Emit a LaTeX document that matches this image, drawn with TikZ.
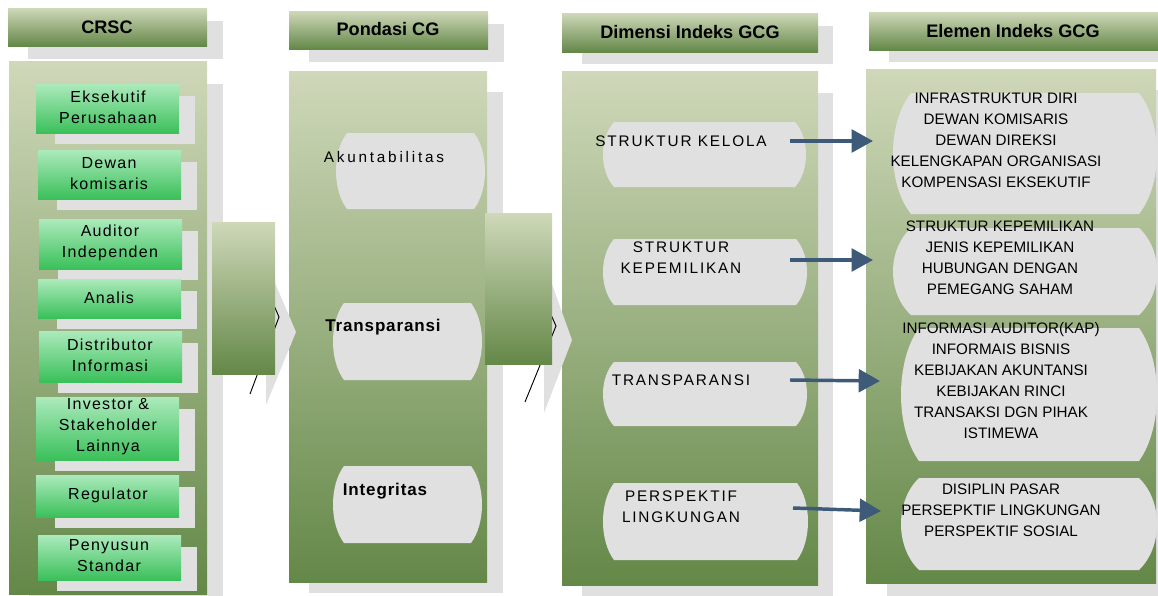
\documentclass[tikz,border=0pt]{standalone}
\usepackage{fontspec}
\setmainfont{Liberation Sans}
\usetikzlibrary{arrows.meta}
\definecolor{gcgtop}{RGB}{207,216,185}
\definecolor{gcgbot}{RGB}{100,136,72}
\definecolor{gcgboxtop}{RGB}{172,234,188}
\definecolor{gcgboxbot}{RGB}{58,192,90}
\definecolor{gcgshadow}{RGB}{224,224,224}
\definecolor{gcgarrow}{RGB}{61,90,120}

% grey pill with bulging sides: x1,y1,x2,y2,bulge
\newcommand{\barrel}[5]{%
  \fill[gcgshadow] ({#1+#5},#2) -- ({#3-#5},#2)
    .. controls ({#3+#5/3},{#2+(#4-#2)/4}) and ({#3+#5/3},{#4-(#4-#2)/4}) .. ({#3-#5},#4)
    -- ({#1+#5},#4)
    .. controls ({#1-#5/3},{#4-(#4-#2)/4}) and ({#1-#5/3},{#2+(#4-#2)/4}) .. ({#1+#5},#2) -- cycle;}

\begin{document}
\begin{tikzpicture}[x=0.75pt,y=-0.75pt,
  panel/.style={top color=gcgtop,bottom color=gcgbot},
  greenbox/.style={top color=gcgboxtop,bottom color=gcgboxbot},
  headtxt/.style={font=\bfseries\fontsize{13.6}{15}\selectfont},
  actortxt/.style={align=center,font=\fontsize{12}{15.75}\selectfont\addfontfeatures{LetterSpace=8}},
  pillartxt/.style={font=\bfseries\fontsize{12.75}{15}\selectfont\addfontfeatures{LetterSpace=5}},
  dimtxt/.style={align=center,font=\fontsize{11.5}{15.9}\selectfont\addfontfeatures{LetterSpace=12}},
  elemtxt/.style={align=center,font=\fontsize{11.4}{15.75}\selectfont},
  link/.style={gcgarrow,line width=2.6pt,-{Triangle[length=16pt,width=17pt]}}]
  \useasboundingbox (0,0) rectangle (1158,596);

  % shadows
  \fill[gcgshadow] (28,21) rectangle (223,59);
  \fill[gcgshadow] (29,84) rectangle (223,596);
  \fill[gcgshadow] (309,24) rectangle (504,62);
  \fill[gcgshadow] (309,92) rectangle (503,593);
  \fill[gcgshadow] (582,26) rectangle (833,64);
  \fill[gcgshadow] (582,93) rectangle (833,596);
  \fill[gcgshadow] (889,25) rectangle (1158,62);
  \fill[gcgshadow] (887,90) rectangle (1158,596);

  % column panels
  \shade[panel] (8,8) rectangle (207,46);
  \shade[panel] (9,61) rectangle (207,594);
  \shade[panel] (289,11) rectangle (488,49);
  \shade[panel] (289,71) rectangle (487,582);
  \shade[panel] (562,13) rectangle (818,52);
  \shade[panel] (562,71) rectangle (818,585);
  \shade[panel] (869,12) rectangle (1158,50);
  \shade[panel] (866,69) rectangle (1156,583);

  \node[headtxt] (crsc) at (107,27) {CRSC};
  \node[headtxt] (pondasi) at (388,29) {Pondasi CG};
  \node[headtxt] (dimensi) at (690,32) {Dimensi Indeks GCG};
  \node[headtxt] (elemen) at (1013,31) {Elemen Indeks GCG};

  % CRSC actors
  \foreach \xa/\ya/\xb/\yb in {36/84/179/133, 38/150/181/199, 39/219/182/269, 38/279/181/318,
      39/331/182/382, 36/397/179/460, 36/475/179/517, 38/535/181/580}{
    \fill[gcgshadow] (\xa+19,\ya+12) rectangle (\xb+16,\yb+11);
    \shade[greenbox] (\xa,\ya) rectangle (\xb,\yb);
  }
  \node[actortxt] (eksekutif) at (108,107) {Eksekutif\\Perusahaan};
  \node[actortxt] (dewan) at (109,174) {Dewan\\komisaris};
  \node[actortxt] (auditor) at (110,243) {Auditor\\Independen};
  \node[actortxt] (analis) at (109,298) {Analis};
  \node[actortxt] (distributor) at (110,355) {Distributor\\Informasi};
  \node[actortxt] (investor) at (108,427) {Investor \&\\Stakeholder\\Lainnya};
  \node[actortxt] (regulator) at (108,495) {Regulator};
  \node[actortxt] (penyusun) at (109,556) {Penyusun\\Standar};

  % grey chevrons between columns
  \fill[gcgshadow] (266,262) -- (296,332) -- (266,405) -- cycle;
  \fill[gcgshadow] (544,262) -- (572,340) -- (544,413) -- cycle;
  \draw[black,line width=0.7pt] (250,394) -- (279,317) -- (262,278);
  \draw[black,line width=0.7pt] (525,402) -- (556,326) -- (540,290);
  \shade[panel] (212,222) rectangle (275,374);
  \shade[panel] (485,213) rectangle (552,364);

  % pondasi CG
  \barrel{336}{133}{485}{209}{11}
  \barrel{333}{303}{482}{380}{11}
  \barrel{333}{466}{482}{543}{11}
  \node[font=\fontsize{11.5}{14}\selectfont\addfontfeatures{LetterSpace=18}] (akuntabilitas) at (384,157) {Akuntabilitas};
  \node[pillartxt] (transparansi) at (383,327) {Transparansi};
  \node[pillartxt] (integritas) at (385,491) {Integritas};

  % dimensi indeks
  \barrel{603}{122}{806}{187}{11}
  \barrel{603}{239}{807}{305}{11}
  \barrel{603}{362}{807}{426}{11}
  \barrel{603}{483}{808}{560}{11}
  \node[dimtxt] (kelola) at (681,141) {STRUKTUR KELOLA};
  \node[dimtxt] (kepemilikan) at (681,258) {STRUKTUR\\KEPEMILIKAN};
  \node[dimtxt] (dimtrans) at (681,380) {TRANSPARANSI};
  \node[dimtxt] (lingkungan) at (681,507) {PERSPEKTIF\\LINGKUNGAN};

  % elemen indeks
  \barrel{893}{93}{1157}{214}{18}
  \barrel{893}{228}{1157}{315}{18}
  \barrel{901}{328}{1157}{461}{18}
  \barrel{901}{478}{1157}{570}{18}
  \node[elemtxt] (elkelola) at (996,140) {INFRASTRUKTUR DIRI\\DEWAN KOMISARIS\\DEWAN DIREKSI\\KELENGKAPAN ORGANISASI\\KOMPENSASI EKSEKUTIF};
  \node[elemtxt] (elmilik) at (1000,258) {STRUKTUR KEPEMILIKAN\\JENIS KEPEMILIKAN\\HUBUNGAN DENGAN\\PEMEGANG SAHAM};
  \node[elemtxt] (eltrans) at (1001,381) {INFORMASI AUDITOR(KAP)\\INFORMAIS BISNIS\\KEBIJAKAN AKUNTANSI\\KEBIJAKAN RINCI\\TRANSAKSI DGN PIHAK\\ISTIMEWA};
  \node[elemtxt] (ellingk) at (1001,510) {DISIPLIN PASAR\\PERSEPKTIF LINGKUNGAN\\PERSPEKTIF SOSIAL};

  % arrows
  \coordinate (a1) at (790,141);
  \coordinate (b1) at (873,141);
  \coordinate (a2) at (790,260);
  \coordinate (b2) at (873,260);
  \coordinate (a3) at (790,380);
  \coordinate (b3) at (880,381);
  \coordinate (a4) at (793,508);
  \coordinate (b4) at (881,511);
  \draw[link] (a1) -- (b1);
  \draw[link] (a2) -- (b2);
  \draw[link] (a3) -- (b3);
  \draw[link] (a4) -- (b4);
\end{tikzpicture}
\end{document}
